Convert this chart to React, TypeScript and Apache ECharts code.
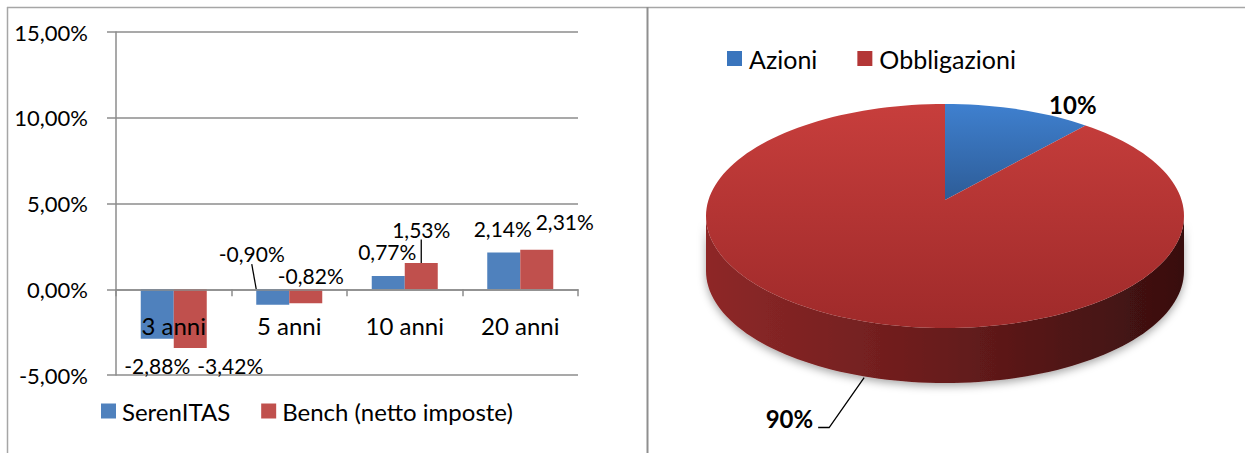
import React, { useEffect, useRef } from 'react';
import * as echarts from 'echarts';

// ---------- data ----------
const categories = ['3 anni', '5 anni', '10 anni', '20 anni'];
const serenitasValues = [-2.88, -0.9, 0.77, 2.14];
const benchValues = [-3.42, -0.82, 1.53, 2.31];
const barSeriesNames = ['SerenITAS', 'Bench (netto imposte)'];
const yMin = -5;
const yMax = 15;
const yInterval = 5;

const pieNames = ['Azioni', 'Obbligazioni'];
const pieValues = [10, 90];

// ---------- layout / style (not data) ----------
const FONT = 'Lato';
const barColors = ['#4f81bd', '#c0504d'];
// label centre offsets relative to each bar's end point
const barLabelOffsets = [
  [[0, 27], [-21, -51], [-1, -25], [-1, -24]],
  [[40, 18], [5, -28], [0, -34], [28, -28]],
];
const barLabelLines = [
  [false, true, false, false],
  [false, false, true, false],
];

const PIE = { cx: 945, cy: 216, rx: 239, ry: 112, depth: 55, apexDy: -16 };
const pieTopColors = [
  ['#3f80cf', '#2d5c97'],
  ['#c73e3c', '#9f2a2a'],
];
const pieLegendColors = ['#3a75bd', '#b33636'];

const GRID = { left: 116, right: 667, top: 32, bottom: 78 };

const fmtPct = (v: number) => v.toFixed(2).replace('.', ',') + '%';

function arc(a: number, b: number, dz: number) {
  const pts: number[][] = [];
  const n = Math.max(2, Math.ceil(((b - a) / (Math.PI * 2)) * 180));
  for (let i = 0; i <= n; i++) {
    const t = a + ((b - a) * i) / n;
    pts.push([PIE.cx + PIE.rx * Math.sin(t), PIE.cy - PIE.ry * Math.cos(t) + dz]);
  }
  return pts;
}

function makeSliceSeries(idx: number) {
  const total = pieValues.reduce((s, v) => s + v, 0);
  return {
    type: 'custom',
    name: pieNames[idx],
    coordinateSystem: 'none',
    silent: true,
    itemStyle: { color: pieLegendColors[idx] },
    data: [pieValues[idx]],
    z: 3,
    renderItem: (params: any, api: any) => {
      const v = api.value(0);
      let before = 0;
      for (let i = 0; i < idx; i++) before += pieValues[i];
      const start = (before / total) * Math.PI * 2;
      const end = start + (v / total) * Math.PI * 2;
      const children: any[] = [];
      const a = Math.max(start, Math.PI / 2);
      const b = Math.min(end, (Math.PI * 3) / 2);
      if (b > a) {
        const top = arc(a, b, 0);
        const bottom = arc(a, b, PIE.depth).reverse();
        children.push({
          type: 'polygon',
          shape: { points: top.concat(bottom) },
          style: {
            fill: new echarts.graphic.LinearGradient(
              PIE.cx - PIE.rx, 0, PIE.cx + PIE.rx, 0,
              [
                { offset: 0, color: '#8e2828' },
                { offset: 0.45, color: '#6c1d1d' },
                { offset: 1, color: '#380f0f' },
              ],
              true
            ),
            shadowBlur: 8,
            shadowColor: 'rgba(0,0,0,0.35)',
            shadowOffsetY: 3,
          },
        });
      }
      const apex = [PIE.cx, PIE.cy + PIE.apexDy];
      children.push({
        type: 'polygon',
        shape: { points: [apex].concat(arc(start, end, 0)) },
        style: {
          fill: new echarts.graphic.LinearGradient(0, 0, 0, 1, [
            { offset: 0, color: pieTopColors[idx][0] },
            { offset: 1, color: pieTopColors[idx][1] },
          ]),
        },
      });
      const mid = (start + end) / 2;
      const pct = Math.round((v / total) * 100) + '%';
      const mx = PIE.cx + PIE.rx * Math.sin(mid);
      const my = PIE.cy - PIE.ry * Math.cos(mid);
      if (Math.cos(mid) > 0) {
        children.push({
          type: 'text',
          x: mx + 54,
          y: my - 5,
          style: { text: pct, font: `bold 24px ${FONT}`, fill: '#000', align: 'center', verticalAlign: 'middle' },
        });
      } else {
        const ax = mx;
        const ay = my + PIE.depth;
        children.push({
          type: 'polyline',
          shape: { points: [[ax - 7, ay], [ax - 42, ay + 50], [ax - 53, ay + 50]] },
          style: { stroke: '#000', lineWidth: 1.3, fill: null },
        });
        children.push({
          type: 'text',
          x: ax - 58,
          y: ay + 41,
          style: { text: pct, font: `bold 24px ${FONT}`, fill: '#000', align: 'right', verticalAlign: 'middle' },
        });
      }
      return { type: 'group', children };
    },
  };
}

export default function App() {
  const ref = useRef<HTMLDivElement>(null);
  useEffect(() => {
    document.body.style.margin = '0';
    const chart = echarts.init(ref.current!, undefined, { renderer: 'svg' });
    const allBarValues = [serenitasValues, benchValues];
    const barSeries = allBarValues.map((vals, s) => ({
      type: 'bar',
      name: barSeriesNames[s],
      barWidth: 33,
      barGap: '0%',
      itemStyle: { color: barColors[s] },
      z: 2,
      data: vals.map((v, i) => ({
        value: v,
        labelLine: { show: barLabelLines[s][i] },
      })),
      label: {
        show: true,
        position: 'top',
        formatter: (p: any) => fmtPct(p.value),
        fontFamily: FONT,
        fontSize: 21,
        color: '#000',
      },
      labelLine: { show: false, lineStyle: { color: '#000', width: 1.3 } },
      labelLayout: (params: any) => {
        const r = params.rect;
        const i = params.dataIndex;
        const v = allBarValues[s][i];
        const endY = v < 0 ? r.y + r.height : r.y;
        const [dx, dy] = barLabelOffsets[s][i];
        return { x: r.x + r.width / 2 + dx, y: endY + dy, align: 'center', verticalAlign: 'middle' };
      },
    }));

    chart.setOption({
      animation: false,
      textStyle: { fontFamily: FONT },
      grid: { ...GRID, containLabel: false },
      legend: [
        {
          data: barSeriesNames,
          left: 101,
          top: 399,
          padding: 0,
          itemWidth: 15,
          itemHeight: 15,
          itemGap: 31,
          icon: 'rect',
          textStyle: { fontFamily: FONT, fontSize: 24, color: '#000', padding: [0, 0, 0, 1] },
        },
        {
          data: pieNames,
          left: 727,
          top: 46,
          padding: 0,
          itemWidth: 15,
          itemHeight: 15,
          itemGap: 40,
          icon: 'rect',
          textStyle: { fontFamily: FONT, fontSize: 25, color: '#000', padding: [0, 0, 0, 2] },
        },
      ],
      xAxis: {
        type: 'category',
        data: categories,
        z: 5,
        position: 'bottom',
        offset: 0,
        axisLine: { onZero: false, lineStyle: { color: '#8c8c8c', width: 1.5 } },
        axisTick: { show: true, length: 7, lineStyle: { color: '#8c8c8c', width: 1.5 } },
        axisLabel: { margin: 24, fontFamily: FONT, fontSize: 24, color: '#000' },
      },
      yAxis: {
        type: 'value',
        min: yMin,
        max: yMax,
        interval: yInterval,
        axisLine: { show: true, lineStyle: { color: '#8c8c8c', width: 1.5 } },
        axisTick: { show: true, length: 9, lineStyle: { color: '#8c8c8c', width: 1.5 } },
        splitLine: { lineStyle: { color: '#8c8c8c', width: 1.5 } },
        axisLabel: {
          margin: 28,
          fontFamily: FONT,
          fontSize: 22,
          color: '#000',
          formatter: (v: number) => fmtPct(v),
        },
      },
      graphic: [
        { type: 'line', shape: { x1: 7, y1: 7.5, x2: 1245, y2: 7.5 }, style: { stroke: '#a6a6a6', lineWidth: 1.5 } },
        { type: 'line', shape: { x1: 7.5, y1: 7, x2: 7.5, y2: 453 }, style: { stroke: '#a6a6a6', lineWidth: 1.5 } },
        { type: 'line', shape: { x1: 647.5, y1: 7, x2: 647.5, y2: 453 }, style: { stroke: '#8f8f8f', lineWidth: 2 } },
      ],
      series: [...barSeries, makeSliceSeries(0), makeSliceSeries(1)],
    });
    // place the category axis on the value axis' zero, via the library's own scale
    const zeroY = chart.convertToPixel({ yAxisIndex: 0 }, 0) as number;
    const bottomY = chart.getHeight() - GRID.bottom;
    chart.setOption({ xAxis: { offset: -(bottomY - zeroY) } });
    return () => chart.dispose();
  }, []);
  return (
    <div
      ref={ref}
      style={{ position: 'absolute', left: 0, top: 0, width: 1245, height: 453, background: '#fff' }}
    />
  );
}
